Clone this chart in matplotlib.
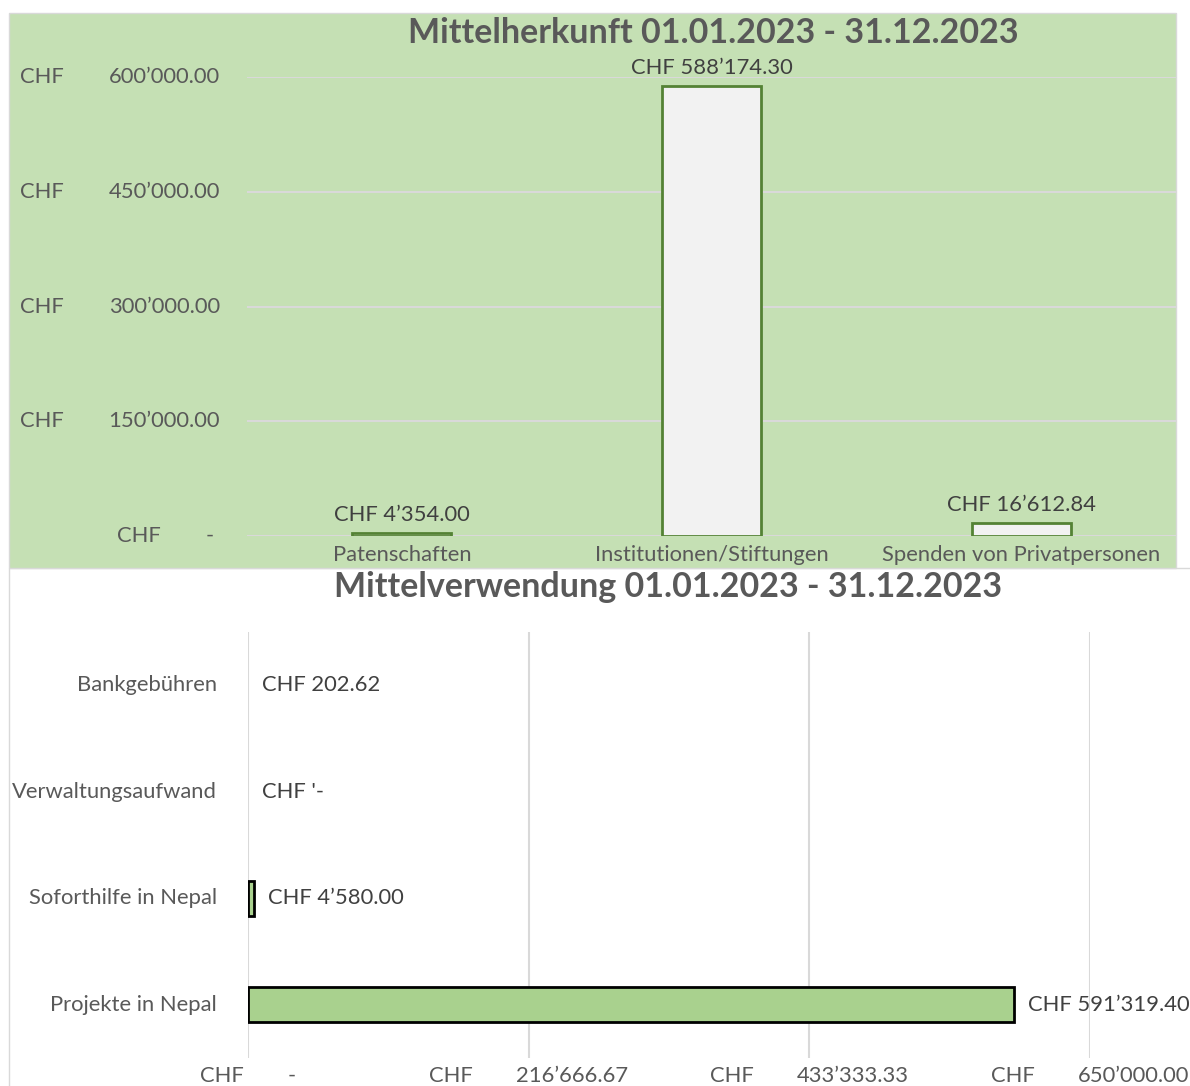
import matplotlib.pyplot as plt
from matplotlib.patches import Rectangle

plt.rcParams['font.family'] = ['Lato', 'DejaVu Sans']

# Mittelherkunft
herkunft_cats = ["Patenschaften", "Institutionen/Stiftungen", "Spenden von Privatpersonen"]
herkunft_vals = [4354.00, 588174.30, 16612.84]
herkunft_ticks = [0, 150000, 300000, 450000, 600000]

# Mittelverwendung (bottom to top)
verw_cats = ["Projekte in Nepal", "Soforthilfe in Nepal", "Verwaltungsaufwand", "Bankgebühren"]
verw_vals = [591319.40, 4580.00, 0.0, 202.62]
verw_labels = ["CHF 591’319.40", "CHF 4’580.00", "CHF '-", "CHF 202.62"]
verw_ticks = [0, 216666.67, 433333.33, 650000]

W, H = 1190, 1086
GREY = '#595959'
DARK = '#404040'
GRID = '#d9d9d9'
FS = 15.8


def chf(v):
    return f"{v:,.2f}".replace(",", "’")


def px(p):
    return p * 0.72


fig = plt.figure(figsize=(W / 100, H / 100), dpi=100)

# panel backgrounds
fig.patches.append(Rectangle((9 / W, -0.1), 1.2, 1 - 568 / H + 0.1, transform=fig.transFigure,
                             fc='white', ec=GRID, lw=1, zorder=-2))
fig.patches.append(Rectangle((9 / W, 1 - 568 / H), (1176 - 9) / W, (568 - 13) / H,
                             transform=fig.transFigure, fc='#c5e0b4', ec=GRID, lw=1, zorder=-1))

# ---- top chart
ax1 = fig.add_axes([247 / W, 1 - 536 / H, (1176 - 247) / W, (536 - 77) / H])
ax1.set_facecolor('none')
ax1.set_xlim(-0.5, 2.5)
ax1.set_ylim(0, 600000)
ax1.set_yticks(herkunft_ticks)
ax1.set_xticks(range(len(herkunft_cats)))
ax1.tick_params(length=0, labelleft=False, labelbottom=False)
ax1.grid(axis='y', color=GRID, lw=1.5)
ax1.set_axisbelow(True)
for s in ax1.spines.values():
    s.set_visible(False)
ax1.bar(range(len(herkunft_vals)), herkunft_vals, width=0.32, color='#f2f2f2',
        edgecolor='#548235', lw=2)
for i, v in enumerate(herkunft_vals):
    ax1.annotate("CHF " + chf(v), (i, v), xytext=(0, px(8)), textcoords='offset points',
                 ha='center', va='bottom', fontsize=FS, color=DARK)
for i, c in enumerate(herkunft_cats):
    ax1.annotate(c, (i, 0), xytext=(0, -px(19)), textcoords='offset points',
                 ha='center', va='center', fontsize=FS, color=GREY)
ytr = ax1.get_yaxis_transform()
for t in herkunft_ticks:
    num = chf(t) if t else "-"
    w = 200 if t else 103
    rpad = 27 if t else 33
    ax1.annotate("CHF", (0, t), xycoords=ytr, xytext=(-px(27 + w), 0),
                 textcoords='offset points', ha='left', va='center', fontsize=FS, color=GREY)
    ax1.annotate(num, (0, t), xycoords=ytr, xytext=(-px(rpad), 0),
                 textcoords='offset points', ha='right', va='center', fontsize=FS, color=GREY)

fig.text(713 / W, 1 - 33 / H, "Mittelherkunft 01.01.2023 - 31.12.2023", ha='center',
         va='center', fontsize=24.5, fontweight='bold', color=GREY)

# ---- bottom chart
ax2 = fig.add_axes([248 / W, 1 - 1058 / H, (1090 - 248) / W, (1058 - 632) / H])
ax2.set_facecolor('none')
ax2.set_xlim(0, 650000)
ax2.set_ylim(-0.5, 3.5)
ax2.set_xticks(verw_ticks)
ax2.set_yticks(range(len(verw_cats)))
ax2.tick_params(length=0, labelleft=False, labelbottom=False)
ax2.grid(axis='x', color=GRID, lw=1.5)
ax2.set_axisbelow(True)
for s in ax2.spines.values():
    s.set_visible(False)
# tiny bars are not visible in the original (no outline drawn)
edge_w = [2 if v > 1000 else 0 for v in verw_vals]
ax2.barh(range(len(verw_vals)), verw_vals, height=0.33, color='#a9d18e',
         edgecolor='black', linewidth=edge_w)
for i, (v, lab) in enumerate(zip(verw_vals, verw_labels)):
    ax2.annotate(lab, (v, i), xytext=(px(14), 0), textcoords='offset points',
                 ha='left', va='center', fontsize=FS, color=DARK)
for i, c in enumerate(verw_cats):
    ax2.annotate(c, (0, i), xytext=(-px(31), 0), textcoords='offset points',
                 ha='right', va='center', fontsize=FS, color=GREY)
xtr = ax2.get_xaxis_transform()
for t in verw_ticks:
    num = chf(t) if t else "-"
    w = 199 if t else 96
    ax2.annotate("CHF", (t, 0), xycoords=xtr, xytext=(-px(w / 2), -px(18)),
                 textcoords='offset points', ha='left', va='center', fontsize=FS, color=GREY)
    ax2.annotate(num, (t, 0), xycoords=xtr, xytext=(px(w / 2), -px(18)),
                 textcoords='offset points', ha='right', va='center', fontsize=FS, color=GREY,
                 annotation_clip=False)

fig.text(668 / W, 1 - 587 / H, "Mittelverwendung 01.01.2023 - 31.12.2023", ha='center',
         va='center', fontsize=24.5, fontweight='bold', color=GREY)

fig.savefig("out.png", dpi=100)
